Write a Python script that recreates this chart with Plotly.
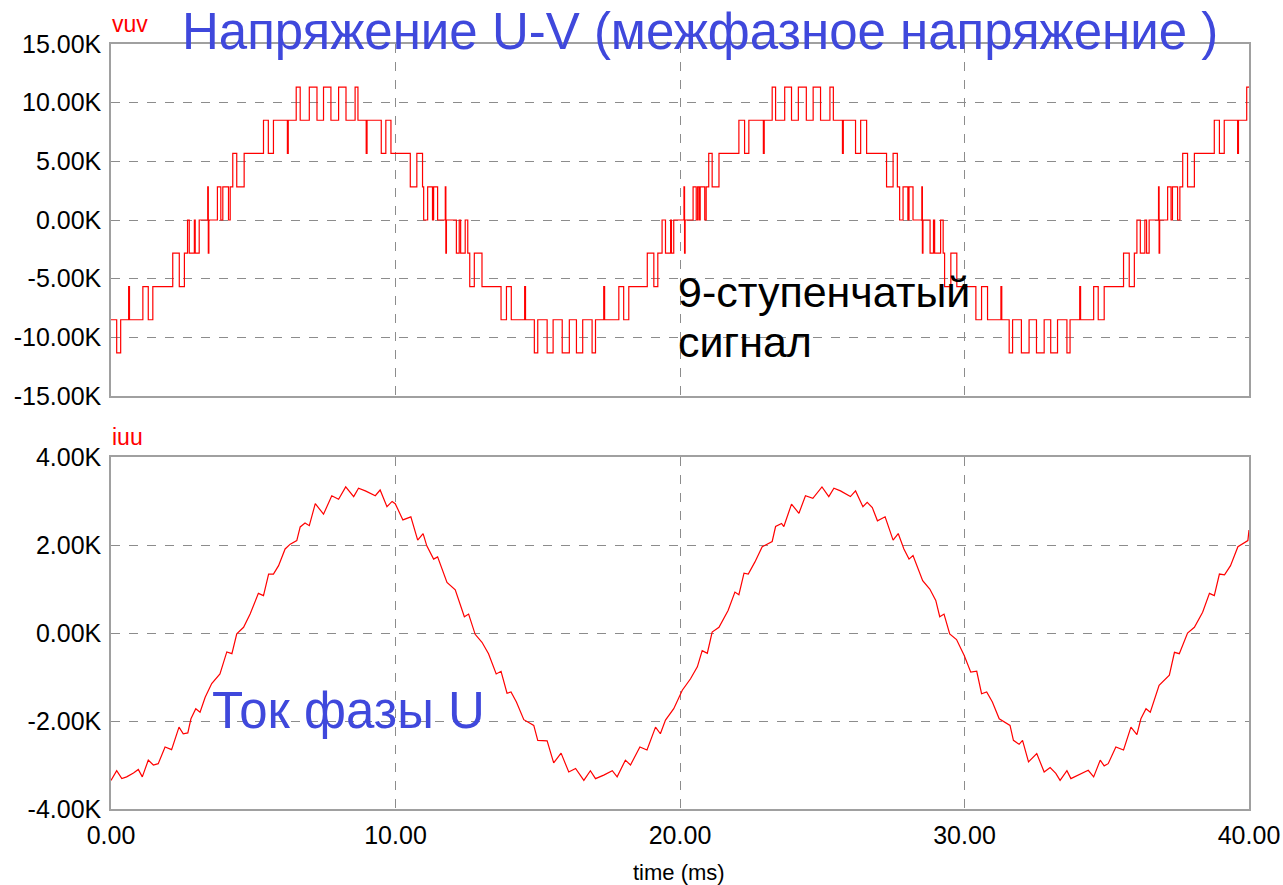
import plotly.graph_objects as go

# ---------------- data ----------------
# line voltage U-V (thousands of volts), step transitions: time (ms) -> new level
vuv_time_ms = [
    0.00, 0.20, 0.34, 0.62, 0.65, 1.12, 1.31, 1.47, 2.17, 2.40, 2.58, 2.69, 2.75, 2.93, 2.96,
    3.10, 3.40, 3.42, 3.44, 3.74, 3.86, 3.93, 4.13, 4.19, 4.28, 4.42, 4.68, 5.36, 5.53, 5.71,
    6.20, 6.23, 6.51, 6.65, 6.97, 7.24, 7.47, 7.73, 8.00, 8.26, 8.58, 8.68, 8.97, 9.00, 9.50,
    9.66, 9.84, 10.52, 10.75, 10.95, 10.99, 11.13, 11.30, 11.34, 11.48, 11.75, 11.77, 11.79,
    12.14, 12.24, 12.29, 12.45, 12.54, 12.61, 12.77, 13.04, 13.71, 13.90, 14.07, 14.54, 14.57,
    14.88, 15.00, 15.33, 15.54, 15.86, 16.11, 16.36, 16.58, 16.91, 17.03, 17.32, 17.35, 17.85,
    18.02, 18.20, 18.85, 19.08, 19.22, 19.37, 19.49, 19.67, 19.70, 19.78, 20.14, 20.16, 20.18,
    20.46, 20.57, 20.62, 20.67, 20.71, 20.87, 20.92, 21.01, 21.13, 21.37, 22.07, 22.27, 22.42,
    22.93, 22.96, 23.24, 23.36, 23.68, 23.92, 24.16, 24.44, 24.68, 24.94, 25.27, 25.39, 25.71,
    25.74, 26.17, 26.35, 26.56, 27.26, 27.49, 27.64, 27.72, 27.84, 28.01, 28.05, 28.19, 28.50,
    28.52, 28.54, 28.79, 28.91, 28.95, 29.16, 29.25, 29.30, 29.52, 29.73, 30.40, 30.60, 30.81,
    31.28, 31.31, 31.57, 31.69, 32.00, 32.27, 32.53, 32.80, 33.03, 33.27, 33.60, 33.71, 34.05,
    34.08, 34.54, 34.70, 34.91, 35.59, 35.79, 35.97, 36.06, 36.18, 36.34, 36.40, 36.49, 36.82,
    36.84, 36.86, 37.14, 37.26, 37.31, 37.49, 37.57, 37.67, 37.84, 38.08, 38.78, 38.96, 39.13,
    39.60, 39.63, 39.92, 40.00,
]
vuv_kV = [
    -8.5, -11.33, -8.5, -5.67, -8.5, -5.67, -8.5, -5.67, -2.83, -5.67, -2.83, 0, -2.83, 0, -2.83,
    0, 2.83, -2.83, 0, 2.83, 0, 2.83, 0, 2.83, 5.67, 2.83, 5.67, 8.5, 5.67, 8.5,
    5.67, 8.5, 11.33, 8.5, 11.33, 8.5, 11.33, 8.5, 11.33, 8.5, 11.33, 8.5, 5.67, 8.5, 5.67,
    8.5, 5.67, 2.83, 5.67, 2.83, 0, 2.83, 0, 2.83, 0, 2.83, -2.83, 0,
    -2.83, 0, -2.83, 0, -2.83, -5.67, -2.83, -5.67, -8.5, -5.67, -8.5, -5.67, -8.5,
    -11.33, -8.5, -11.33, -8.5, -11.33, -8.5, -11.33, -8.5, -11.33, -8.5, -5.67, -8.5, -5.67,
    -8.5, -5.67, -2.83, -5.67, -2.83, 0, -2.83, 0, -2.83, 0, 2.83, -2.83, 0,
    2.83, 0, 2.83, 0, 2.83, 0, 2.83, 5.67, 2.83, 5.67, 8.5, 5.67, 8.5,
    5.67, 8.5, 11.33, 8.5, 11.33, 8.5, 11.33, 8.5, 11.33, 8.5, 11.33, 8.5, 5.67,
    8.5, 5.67, 8.5, 5.67, 2.83, 5.67, 2.83, 0, 2.83, 0, 2.83, 0, 2.83,
    -2.83, 0, -2.83, 0, -2.83, 0, -2.83, -5.67, -2.83, -5.67, -8.5, -5.67, -8.5,
    -5.67, -8.5, -11.33, -8.5, -11.33, -8.5, -11.33, -8.5, -11.33, -8.5, -11.33, -8.5, -5.67,
    -8.5, -5.67, -8.5, -5.67, -2.83, -5.67, -2.83, 0, -2.83, 0, -2.83, 0, 2.83,
    -2.83, 0, 2.83, 0, 2.83, 0, 2.83, 5.67, 2.83, 5.67, 8.5, 5.67, 8.5,
    5.67, 8.5, 11.33, 11.33,
]

# phase U current (thousands of amperes)
iuu_time_ms = [
    0.00, 0.20, 0.38, 0.55, 0.79, 0.96, 1.10, 1.31, 1.49, 1.66, 1.90, 2.13, 2.39, 2.54, 2.70,
    2.81, 2.98, 3.13, 3.31, 3.54, 3.83, 4.07, 4.25, 4.42, 4.66, 4.89, 5.18, 5.36, 5.54, 5.71,
    5.89, 6.12, 6.30, 6.53, 6.65, 6.82, 6.97, 7.18, 7.47, 7.76, 8.00, 8.25, 8.53, 8.70, 8.94,
    9.29, 9.46, 9.70, 9.88, 9.99, 10.26, 10.54, 10.78, 10.97, 11.10, 11.34, 11.48, 11.81, 12.10,
    12.42, 12.57, 12.80, 13.04, 13.27, 13.54, 13.71, 13.92, 14.06, 14.25, 14.51, 14.86, 15.00,
    15.33, 15.56, 15.82, 16.09, 16.33, 16.62, 16.85, 17.03, 17.32, 17.62, 17.79, 18.08, 18.26,
    18.59, 18.84, 19.14, 19.31, 19.49, 19.78, 19.96, 20.08, 20.37, 20.61, 20.78, 20.96, 21.13,
    21.37, 21.69, 21.93, 22.07, 22.25, 22.40, 22.63, 22.89, 23.24, 23.36, 23.57, 23.65, 23.92,
    24.18, 24.41, 24.67, 24.99, 25.23, 25.41, 25.64, 25.99, 26.17, 26.43, 26.58, 26.76, 26.94,
    27.21, 27.49, 27.67, 27.87, 28.05, 28.19, 28.53, 28.78, 28.99, 29.13, 29.28, 29.48, 29.72,
    29.99, 30.22, 30.43, 30.60, 30.78, 30.98, 31.22, 31.60, 31.72, 31.92, 32.04, 32.25, 32.54,
    32.80, 33.01, 33.21, 33.36, 33.60, 33.74, 34.09, 34.35, 34.54, 34.77, 34.91, 35.05, 35.32,
    35.59, 35.85, 36.06, 36.20, 36.38, 36.53, 36.84, 37.20, 37.38, 37.55, 37.84, 38.08, 38.37,
    38.61, 38.78, 38.96, 39.14, 39.35, 39.61, 39.96, 40.00,
]
iuu_kA = [
    -3.35, -3.13, -3.31, -3.27, -3.18, -3.10, -3.27, -2.89, -3.00, -2.97, -2.59, -2.65, -2.14, -2.29, -2.27,
    -1.95, -1.72, -1.80, -1.46, -1.15, -0.93, -0.43, -0.47, -0.02, 0.13, 0.43, 0.90, 0.85, 1.34, 1.34,
    1.53, 1.91, 2.02, 2.10, 2.41, 2.50, 2.44, 2.94, 2.70, 3.12, 3.04, 3.32, 3.10, 3.29, 3.23,
    3.12, 3.25, 2.87, 2.99, 2.94, 2.57, 2.64, 2.11, 2.26, 1.98, 1.68, 1.73, 1.15, 0.98,
    0.37, 0.43, -0.03, -0.21, -0.47, -0.93, -0.87, -1.37, -1.34, -1.57, -1.97, -2.10, -2.44,
    -2.45, -2.95, -2.73, -3.16, -3.08, -3.35, -3.13, -3.31, -3.23, -3.13, -3.27, -2.89, -3.00,
    -2.59, -2.66, -2.14, -2.29, -1.98, -1.72, -1.46, -1.30, -1.04, -0.77, -0.40, -0.46, 0.02,
    0.13, 0.51, 0.93, 0.87, 1.36, 1.34, 1.61, 1.96, 2.08, 2.42, 2.49, 2.42, 2.93,
    2.72, 3.12, 3.06, 3.32, 3.10, 3.29, 3.23, 3.10, 3.23, 2.87, 2.97, 2.85, 2.55,
    2.64, 2.11, 2.26, 1.91, 1.68, 1.76, 1.19, 1.00, 0.74, 0.37, 0.43, -0.02, -0.15,
    -0.51, -0.89, -0.87, -1.38, -1.34, -1.57, -1.95, -2.10, -2.44, -2.53, -2.44, -2.93, -2.74,
    -3.16, -3.06, -3.19, -3.35, -3.13, -3.31, -3.21, -3.12, -3.27, -2.89, -3.02, -2.97, -2.59,
    -2.66, -2.14, -2.31, -1.95, -1.72, -1.80, -1.19, -0.96, -0.44, -0.47, 0.00, 0.13, 0.47,
    0.90, 0.85, 1.34, 1.32, 1.53, 1.96, 2.10, 2.34,
]

x_ticks = [0, 10, 20, 30, 40]
x_tick_text = ["0.00", "10.00", "20.00", "30.00", "40.00"]
vuv_ticks = [-15, -10, -5, 0, 5, 10, 15]
vuv_tick_text = ["-15.00K", "-10.00K", "-5.00K", "0.00K", "5.00K", "10.00K", "15.00K"]
iuu_ticks = [-4, -2, 0, 2, 4]
iuu_tick_text = ["-4.00K", "-2.00K", "0.00K", "2.00K", "4.00K"]

# ---------------- layout helpers ----------------
W, H = 1283, 885
PL, PR, PT, PB = 111, 1249, 44, 809   # plot area pixel box


def px(xp):
    return (xp - PL) / (PR - PL)


def py(yp):
    return (PB - yp) / (PB - PT)


FONT = "Arial, 'Liberation Sans', sans-serif"
RED = "#ff0000"
BLUE = "#3f48dc"
GRID = "#8c8c8c"
FRAME = "#a0a0a0"

fig = go.Figure()
fig.add_trace(go.Scatter(x=vuv_time_ms, y=vuv_kV, mode="lines", line=dict(color=RED, width=1.2, shape="hv"),
                         xaxis="x2", yaxis="y2", hoverinfo="skip"))
fig.add_trace(go.Scatter(x=iuu_time_ms, y=iuu_kA, mode="lines", line=dict(color=RED, width=1.2),
                         xaxis="x", yaxis="y", hoverinfo="skip"))

axis_common = dict(showgrid=True, gridcolor=GRID, griddash="dash", gridwidth=1,
                   showline=True, linecolor=FRAME, linewidth=1.5, mirror=True,
                   zeroline=False, ticks="", automargin=False, ticklabelstandoff=3,
                   tickfont=dict(family=FONT, size=25, color="black"))

fig.update_layout(
    width=W, height=H, autosize=False,
    margin=dict(l=PL, r=W - PR, t=PT, b=H - PB, autoexpand=False),
    paper_bgcolor="white", plot_bgcolor="white", showlegend=False,
    xaxis=dict(domain=[0, 1], anchor="y", range=[0, 40], tickvals=x_ticks, ticktext=x_tick_text,
               **axis_common),
    xaxis2=dict(domain=[0, 1], anchor="y2", range=[0, 40], tickvals=x_ticks, showticklabels=False,
                **axis_common),
    yaxis=dict(domain=[0, py(457)], anchor="x", range=[-4, 4], tickvals=iuu_ticks, ticktext=iuu_tick_text,
               **axis_common),
    yaxis2=dict(domain=[py(396), 1], anchor="x2", range=[-15, 15], tickvals=vuv_ticks, ticktext=vuv_tick_text,
                **axis_common),
)

annotations = [
    dict(text="Напряжение U-V (межфазное напряжение )", x=px(700), y=py(31), font=dict(size=51, color=BLUE)),
    dict(text="vuv", x=px(110), y=py(24), xanchor="left", font=dict(size=23, color=RED)),
    dict(text="iuu", x=px(110), y=py(437), xanchor="left", font=dict(size=23, color=RED)),
    dict(text="9-ступенчатый", x=px(676), y=py(292), xanchor="left", font=dict(size=43, color="black")),
    dict(text="сигнал", x=px(676), y=py(342), xanchor="left", font=dict(size=43, color="black")),
    dict(text="Ток фазы U", x=px(210), y=py(710), xanchor="left", font=dict(size=51, color=BLUE)),
    dict(text="time (ms)", x=px(679), y=py(872), font=dict(size=22, color="black")),
]
for a in annotations:
    a.setdefault("xanchor", "center")
    a["yanchor"] = "middle"
    a["xref"] = "paper"
    a["yref"] = "paper"
    a["showarrow"] = False
    a["font"]["family"] = FONT
    fig.add_annotation(**a)

fig.write_html(
    "out.html",
    config={"responsive": False, "displayModeBar": False},
    post_script="document.body.style.margin='0';document.body.style.overflow='hidden';",
)
